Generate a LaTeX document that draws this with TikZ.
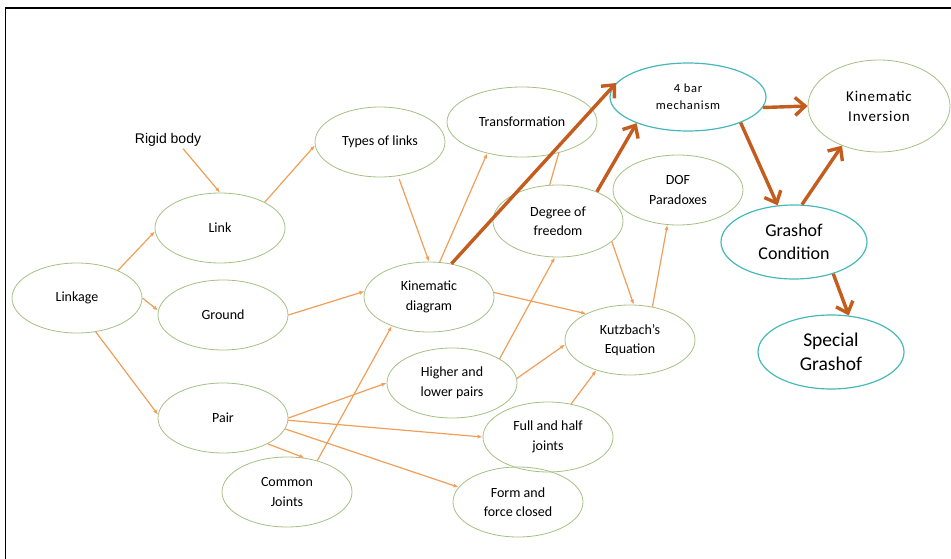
\documentclass[tikz,border=0pt]{standalone}
\usepackage{fontspec}
\setmainfont{Carlito}
\newfontfamily\arialfont{Liberation Sans}
\usetikzlibrary{shapes.geometric,arrows.meta}
\definecolor{bubblegreen}{RGB}{165,192,132}
\definecolor{bubblecyan}{RGB}{70,184,186}
\definecolor{lineorange}{RGB}{240,158,88}
\definecolor{boldorange}{RGB}{196,92,30}

\begin{document}
\begin{tikzpicture}[x=1pt,y=-1pt,
	bubble/.style={ellipse,draw=bubblegreen,line width=0.8pt,minimum width=130pt,minimum height=70pt,inner sep=0pt,align=center,font=\fontsize{14}{19.5}\selectfont},
	keybubble/.style={bubble,draw=bubblecyan,line width=1.2pt},
	feed/.style={draw=lineorange,line width=1.2pt,-{Latex[length=5pt,width=4pt]}},
	lead/.style={draw=boldorange,line width=3.4pt,-{Straight Barb[length=10pt,width=18pt]}}]
	\useasboundingbox (0,0) rectangle (951,559);
	\draw[line width=2.7pt] (4.8,8) -- (951,8);%Rahmen oben
	\draw[line width=1.5pt] (5.5,8) -- (5.5,559);%Rahmen links

	\node[bubble] (linkage) at (77,298) {Linkage};
	\node[font=\arialfont\fontsize{14}{16}\selectfont,inner sep=2pt] (rigid) at (168,140) {Rigid body};
	\node[bubble] (link) at (220,228) {Link};
	\node[bubble] (types) at (380,142) {Types of links};
	\node[bubble] (ground) at (223,315) {Ground};
	\node[bubble] (pair) at (223,418) {Pair};
	\node[bubble] (common) at (287,492) {Common\\Joints};
	\node[bubble] (kin) at (429,297) {Kinematic\\diagram};
	\node[bubble,minimum width=150pt] (trans) at (522,122) {Transformation};
	\node[bubble,minimum height=72pt] (dof) at (558,221) {Degree of\\freedom};
	\node[bubble] (parad) at (678,190) {DOF\\Paradoxes};
	\node[bubble] (kutz) at (630,340) {Kutzbach’s\\Equation};
	\node[bubble] (higher) at (452,383) {Higher and\\lower pairs};
	\node[bubble] (full) at (548,437) {Full and half\\joints};
	\node[bubble] (form) at (518,502) {Form and\\force closed};

	\node[keybubble,minimum width=156pt,minimum height=68pt,font=\fontsize{12.5}{17}\selectfont\addfontfeatures{LetterSpace=6}] (fourbar) at (688,97) {4 bar\\mechanism};
	\node[bubble,minimum width=142pt,minimum height=92pt,font=\fontsize{15}{20}\selectfont\addfontfeatures{LetterSpace=5}] (inversion) at (879,106) {Kinematic\\Inversion};
	\node[keybubble,minimum width=146pt,minimum height=74pt,font=\fontsize{18}{23}\selectfont] (grashof) at (794,242) {Grashof\\Condition};
	\node[keybubble,minimum width=146pt,minimum height=74pt,font=\fontsize{19.5}{24}\selectfont] (special) at (831,352) {Special\\Grashof};

	%duenne Pfeile
	\draw[feed] (linkage.34) -- (link.183);
	\draw[feed] (linkage.0) -- (ground.176);
	\draw[feed] (linkage.-61) -- (pair.177);
	\draw[feed] (rigid.-30) -- (link.north);
	\draw[feed] (link.30) -- (types.183);
	\draw[feed,shorten <=3pt] (types.-62) -- (kin.north);
	\draw[feed] (ground.east) -- (kin.175);
	\draw[feed] (kin.73) -- (trans.222);
	\draw[feed] (kin.4) -- (kutz.149);
	\draw[feed] (common.46) -- (kin.218);
	\draw[feed] (pair.0) -- (higher.west);
	\draw[feed] (pair.-2) -- (full.west);
	\draw[feed] (pair.-10) -- (form.166);
	\draw[feed] (pair.-30) -- (common.63);
	\draw[feed] (higher.27) -- (dof.265);
	\draw[feed] (higher.4) -- (kutz.184);
	\draw[feed] (full.55) -- (kutz.222);
	\draw[feed] (dof.-21) -- (kutz.84);
	\draw[feed] (kutz.56) -- (parad.253);
	\draw[draw=lineorange,line width=1.2pt] (dof.103) -- (trans.-40);

	%dicke Pfeile
	\draw[lead] (kin.56) -- (fourbar.169);
	\draw[lead] (dof.37) -- (fourbar.207);
	\draw[lead] (fourbar.-8) -- (inversion.180);
	\draw[lead] (fourbar.-26) -- (grashof.114);
	\draw[lead] (grashof.78) -- (inversion.227);
	\draw[lead] (grashof.-39) -- (special.64);
\end{tikzpicture}
\end{document}
